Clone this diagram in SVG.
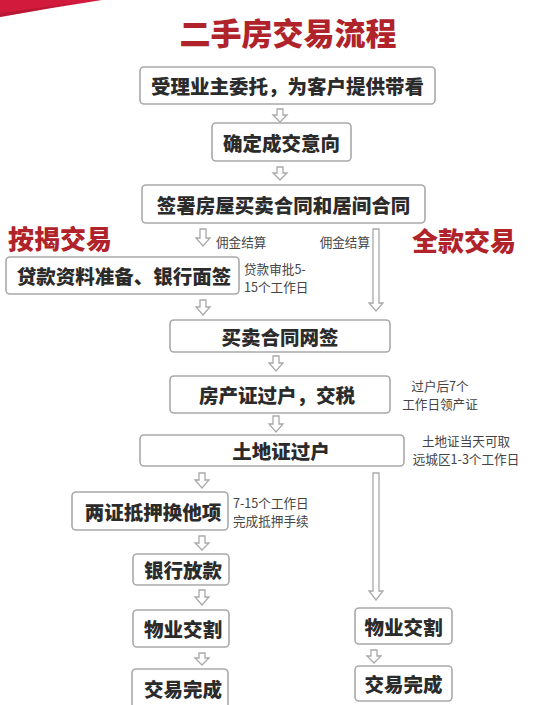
<svg xmlns="http://www.w3.org/2000/svg" width="548" height="705" viewBox="0 0 548 705">
<style>
.box{fill:#fff;stroke:#a9a9a9;stroke-width:1.6}
.bt{font-family:"Noto Sans CJK SC","Noto Sans",sans-serif;font-weight:900;font-size:19.5px;fill:#2b2b2b;text-anchor:middle;dominant-baseline:central}
.note{font-family:"Noto Sans CJK SC","Noto Sans",sans-serif;font-size:12.6px;fill:#444}
.red{font-family:"Noto Sans CJK SC","Noto Sans",sans-serif;font-weight:900;fill:#b0232a}
.arr{fill:#fff;stroke:#a9a9a9;stroke-width:1.3;stroke-linejoin:miter}
</style>
<rect width="548" height="705" fill="#fff"/>
<path d="M0,0 L102,0 Q50,8 0,17 Z" fill="#d21a3c"/>
<path d="M0,13 Q40,8 80,2 Q40,10 0,17 Z" fill="#a8172f" opacity="0.6"/>
<text x="288" y="31" class="red" font-size="31" text-anchor="middle" dominant-baseline="central">二手房交易流程</text>
<text x="60" y="237" class="red" font-size="26" text-anchor="middle" dominant-baseline="central">按揭交易</text>
<text x="464" y="239" class="red" font-size="26" text-anchor="middle" dominant-baseline="central">全款交易</text>

<g id="connectors">
<path class="arr" d="M277,109 h6 v6 h4 l-7,7 l-7,-7 h4 Z"/>
<path class="arr" d="M277,167 h6 v6 h4 l-7,7 l-7,-7 h4 Z"/>
<path class="arr" d="M200,229 h6 v9 h4 l-7,8 l-7,-8 h4 Z"/>
<path class="arr" d="M373,229 h6 v74 h4 l-7,8 l-7,-8 h4 Z"/>
<path class="arr" d="M200,300 h6 v7 h4 l-7,8 l-7,-8 h4 Z"/>
<path class="arr" d="M273,356 h6 v7 h4 l-7,8 l-7,-8 h4 Z"/>
<path class="arr" d="M273,416 h6 v8 h4 l-7,8 l-7,-8 h4 Z"/>
<path class="arr" d="M199,473 h6 v7 h4 l-7,8 l-7,-8 h4 Z"/>
<path class="arr" d="M373,473 h6 v118 h4 l-7,9 l-7,-9 h4 Z"/>
<path class="arr" d="M199,536 h6 v7 h4 l-7,7 l-7,-7 h4 Z"/>
<path class="arr" d="M199,590 h6 v7 h4 l-7,8 l-7,-8 h4 Z"/>
<path class="arr" d="M199,653 h6 v5 h4 l-7,7 l-7,-7 h4 Z"/>
<path class="arr" d="M371,650 h6 v6 h4 l-7,7 l-7,-7 h4 Z"/>
<text x="216" y="241" class="note" dominant-baseline="central">佣金结算</text>
<text x="370" y="241" class="note" text-anchor="end" dominant-baseline="central">佣金结算</text>
</g>

<g id="n1"><rect class="box" x="140" y="67" width="295" height="37" rx="4"/><text class="bt" x="287.5" y="85.5">受理业主委托，为客户提供带看</text></g>
<g id="n2"><rect class="box" x="212" y="123" width="139" height="38" rx="4"/><text class="bt" x="281.5" y="142">确定成交意向</text></g>
<g id="n3"><rect class="box" x="142" y="185" width="283" height="38" rx="4"/><text class="bt" x="283.5" y="204">签署房屋买卖合同和居间合同</text></g>
<g id="n4"><rect class="box" x="6" y="257" width="233" height="37" rx="4"/><text class="bt" x="124" y="275.5">贷款资料准备、银行面签</text>
<text class="note" x="244" y="268" dominant-baseline="central">贷款审批5-</text><text class="note" x="244" y="286" dominant-baseline="central">15个工作日</text></g>
<g id="n5"><rect class="box" x="170" y="320" width="220" height="32" rx="4"/><text class="bt" x="280" y="336">买卖合同网签</text></g>
<g id="n6"><rect class="box" x="170" y="376" width="220" height="37" rx="4"/><text class="bt" x="277" y="394.5">房产证过户，交税</text>
<text class="note" x="440" y="385" text-anchor="middle" dominant-baseline="central">过户后7个</text><text class="note" x="440" y="403" text-anchor="middle" dominant-baseline="central">工作日领产证</text></g>
<g id="n7"><rect class="box" x="140" y="435" width="264" height="31" rx="4"/><text class="bt" x="281" y="450.5">土地证过户</text>
<text class="note" x="466" y="440.5" text-anchor="middle" dominant-baseline="central">土地证当天可取</text><text class="note" x="466" y="458.5" text-anchor="middle" dominant-baseline="central">远城区1-3个工作日</text></g>
<g id="n8"><rect class="box" x="72" y="492" width="156" height="38" rx="4"/><text class="bt" x="153" y="511">两证抵押换他项</text>
<text class="note" x="233" y="502" dominant-baseline="central">7-15个工作日</text><text class="note" x="233" y="520" dominant-baseline="central">完成抵押手续</text></g>
<g id="n9"><rect class="box" x="133" y="554" width="96" height="31" rx="4"/><text class="bt" x="183" y="569.5">银行放款</text></g>
<g id="n10"><rect class="box" x="133" y="610" width="96" height="37" rx="4"/><text class="bt" x="183" y="628.5">物业交割</text></g>
<g id="n11"><rect class="box" x="132" y="669" width="96" height="45" rx="4"/><text class="bt" x="183" y="688">交易完成</text></g>
<g id="n12"><rect class="box" x="355" y="608" width="97" height="36" rx="4"/><text class="bt" x="403.5" y="626">物业交割</text></g>
<g id="n13"><rect class="box" x="355" y="666" width="97" height="35" rx="4"/><text class="bt" x="403.5" y="683.5">交易完成</text></g>
</svg>
